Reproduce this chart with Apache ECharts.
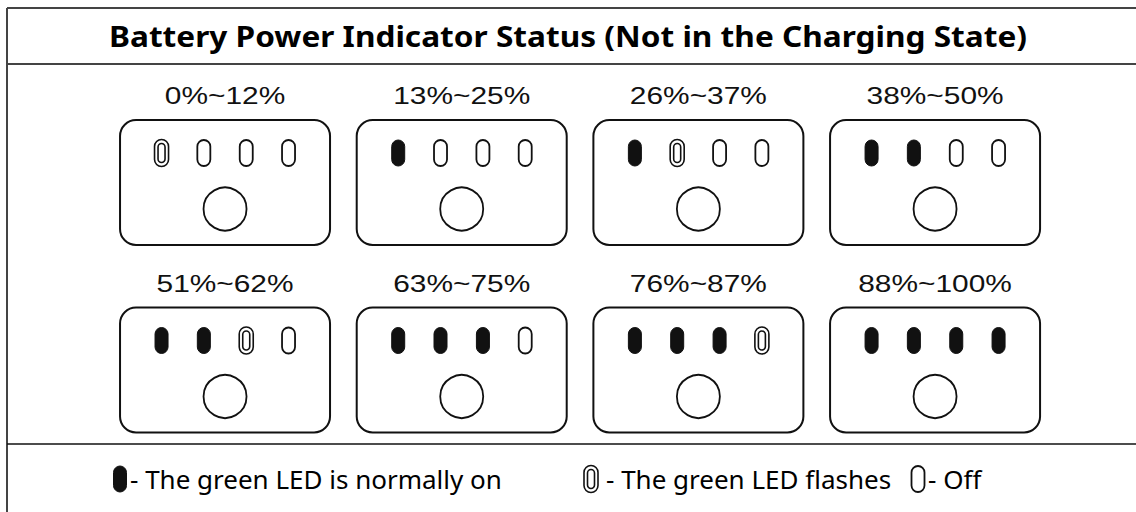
<!DOCTYPE html>
<html>
<head>
<meta charset="utf-8">
<script src="https://cdn.jsdelivr.net/npm/echarts@6/dist/echarts.min.js"></script>
<style>
html,body{margin:0;padding:0;background:#fff;}
#chart{width:1136px;height:512px;}
</style>
</head>
<body>
<div id="chart"></div>
<script>
// ---- data ----
const titleText = 'Battery Power Indicator Status (Not in the Charging State)';
const ranges = ['0%~12%', '13%~25%', '26%~37%', '38%~50%', '51%~62%', '63%~75%', '76%~87%', '88%~100%'];
const gridCols = [0, 1, 2, 3, 0, 1, 2, 3];
const gridRows = [0, 0, 0, 0, 1, 1, 1, 1];
// LED states: 1 = normally on, 2 = flashing, 0 = off
const ledStates = [
  [2, 0, 0, 0],
  [1, 0, 0, 0],
  [1, 2, 0, 0],
  [1, 1, 0, 0],
  [1, 1, 2, 0],
  [1, 1, 1, 0],
  [1, 1, 1, 2],
  [1, 1, 1, 1]
];
const legendLabels = ['- The green LED is normally on', '- The green LED flashes', '- Off'];
const legendStates = [1, 2, 0];

// ---- drawing helpers ----
const INK = '#111';
function ledElements(state, cx, cy) {
  const w = 13, h = 26;
  if (state === 1) {
    return [{ type: 'rect', shape: { x: cx - w / 2, y: cy - h / 2, width: w, height: h, r: w / 2 }, style: { fill: INK, stroke: INK, lineWidth: 1 } }];
  }
  if (state === 2) {
    return [
      { type: 'rect', shape: { x: cx - 7, y: cy - 13.5, width: 14, height: 27, r: 7 }, style: { fill: '#fff', stroke: INK, lineWidth: 1.6 } },
      { type: 'rect', shape: { x: cx - 3.5, y: cy - 9.5, width: 7, height: 19, r: 3.5 }, style: { fill: '#fff', stroke: INK, lineWidth: 1.6 } }
    ];
  }
  return [{ type: 'rect', shape: { x: cx - w / 2, y: cy - h / 2, width: w, height: h, r: w / 2 }, style: { fill: '#fff', stroke: INK, lineWidth: 1.8 } }];
}

const seriesData = ranges.map((r, i) => [gridCols[i], gridRows[i], i]);

function renderItem(params, api) {
  const idx = api.value(2);
  const c = api.coord([api.value(0), api.value(1)]);
  const cx = c[0], cy = c[1];
  const bw = 210, bh = 125;
  const children = [];
  children.push({
    type: 'rect',
    shape: { x: cx - bw / 2, y: cy - bh / 2, width: bw, height: bh, r: 16 },
    style: { fill: '#fff', stroke: INK, lineWidth: 2 }
  });
  const offs = [-63.5, -21.2, 21.2, 63.5];
  ledStates[idx].forEach((s, k) => {
    ledElements(s, cx + offs[k], cy - 29.5).forEach(e => children.push(e));
  });
  children.push({
    type: 'circle',
    shape: { cx: cx, cy: cy + 26.5, r: 21.5 },
    style: { fill: '#fff', stroke: INK, lineWidth: 1.8 }
  });
  children.push({
    type: 'text',
    x: cx, y: cy - 87,
    scaleX: 1.22,
    style: {
      text: ranges[idx],
      fill: '#111',
      font: '24.5px "Liberation Sans", Arial, sans-serif',
      align: 'center',
      verticalAlign: 'middle'
    }
  });
  return { type: 'group', children: children };
}

// legend graphic
const legendX = [120, 591, 918];
const legendTextX = [130, 606, 928];
const legendY = 479;
const graphics = [
  { type: 'line', shape: { x1: 7, y1: 8, x2: 1136, y2: 8 }, style: { stroke: '#444', lineWidth: 2 } },
  { type: 'line', shape: { x1: 7, y1: 8, x2: 7, y2: 512 }, style: { stroke: '#444', lineWidth: 2 } },
  { type: 'line', shape: { x1: 7, y1: 64, x2: 1136, y2: 64 }, style: { stroke: '#444', lineWidth: 2 } },
  { type: 'line', shape: { x1: 7, y1: 444, x2: 1136, y2: 444 }, style: { stroke: '#111', lineWidth: 1.5 } }
];
legendLabels.forEach((t, i) => {
  ledElements(legendStates[i], legendX[i], legendY).forEach(e => graphics.push(e));
  graphics.push({
    type: 'text',
    x: legendTextX[i], y: legendY,
    style: { text: t, fill: '#000', font: '26px "Noto Sans", "Open Sans", sans-serif', align: 'left', verticalAlign: 'middle' }
  });
});
graphics.push({
  type: 'text',
  x: 568, y: 36,
  scaleX: 1.09,
  style: { text: titleText, fill: '#000', font: 'bold 29px "Noto Sans", "Open Sans", sans-serif', align: 'center', verticalAlign: 'middle' }
});

const chart = echarts.init(document.getElementById('chart'), null, { renderer: 'svg' });
chart.setOption({
  animation: false,
  backgroundColor: '#fff',
  grid: { left: 106.7, width: 946.7, top: 88.75, height: 375, containLabel: false },
  xAxis: { type: 'value', min: -0.5, max: 3.5, show: false },
  yAxis: { type: 'value', min: -0.5, max: 1.5, inverse: true, show: false },
  graphic: graphics,
  series: [{
    type: 'custom',
    renderItem: renderItem,
    data: seriesData,
    silent: true
  }]
});
</script>
</body>
</html>
